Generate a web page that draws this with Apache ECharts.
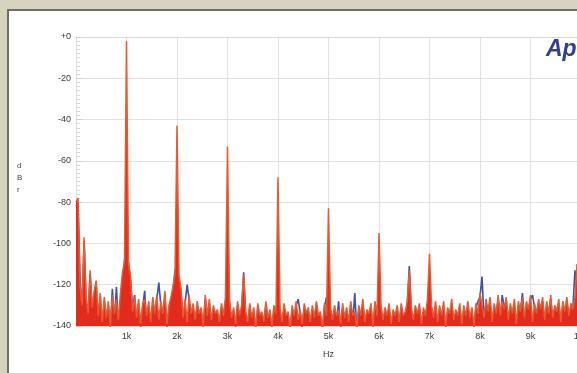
<!DOCTYPE html>
<html><head><meta charset="utf-8">
<script src="https://cdn.jsdelivr.net/npm/echarts@6/dist/echarts.min.js"></script>
<style>html,body{margin:0;padding:0;background:#d6d3be}#c{width:577px;height:373px}</style>
</head><body><div id="c"></div>
<script>
// FFT bin spacing (Hz) of the analyser trace
var binHz = 40;
var xTickLabels = ['1k','2k','3k','4k','5k','6k','7k','8k','9k','10k'];
var yTickLabels = ['+0','-20','-40','-60','-80','-100','-120','-140'];
// red channel (dBr), one value per bin from 0 Hz
var redDb = [
-80,-78,-121,-130,-97,-126,-134,-113,-131,-123,
-118,-135,-124,-138,-126,-136,-128,-140,-125,-134,
-127,-137,-124,-114,-109,-2,-110,-116,-133,-126,
-136,-127,-139,-129,-127,-135,-128,-138,-126,-134,
-125,-137,-128,-134,-123,-139,-130,-126,-121,-115,
-43,-116,-122,-136,-127,-138,-125,-134,-129,-137,
-128,-134,-131,-140,-125,-135,-127,-137,-130,-134,
-132,-138,-129,-135,-126,-53,-127,-136,-131,-139,
-128,-135,-130,-115,-133,-138,-129,-136,-131,-141,
-129,-135,-133,-138,-128,-136,-132,-140,-130,-134,
-68,-131,-138,-129,-135,-133,-141,-130,-135,-128,
-137,-132,-139,-129,-134,-131,-138,-130,-136,-128,
-135,-133,-141,-129,-135,-83,-131,-137,-130,-135,
-132,-139,-129,-136,-131,-138,-128,-135,-133,-141,
-130,-135,-127,-138,-132,-134,-129,-140,-128,-135,
-95,-130,-137,-131,-135,-129,-139,-132,-135,-130,
-138,-129,-135,-133,-128,-113,-131,-137,-130,-134,
-129,-139,-131,-135,-127,-105,-130,-136,-128,-138,
-130,-135,-128,-140,-131,-134,-127,-137,-132,-135,
-129,-139,-130,-135,-128,-136,-131,-140,-129,-134,
-124,-130,-136,-127,-133,-126,-138,-129,-134,-125,
-135,-128,-132,-126,-137,-129,-134,-127,-139,-128,
-133,-126,-136,-128,-132,-125,-138,-129,-134,-127,
-132,-126,-137,-128,-134,-125,-136,-130,-133,-127,
-138,-128,-133,-126,-135,-129,-132,-126,-110,-131,
-136
];
// blue channel (dBr); harmonics lie hidden beneath the red trace
var blueDb = [
-82,-80,-117,-132,-99,-128,-135,-115,-133,-125,
-120,-137,-126,-140,-128,-136,-130,-141,-122,-138,
-121,-139,-128,-124,-108,-107,-109,-118,-131,-125,
-137,-129,-141,-131,-123,-139,-130,-140,-128,-134,
-127,-119,-130,-139,-125,-141,-132,-128,-123,-113,
-112,-117,-124,-137,-129,-120,-127,-139,-131,-140,
-130,-138,-133,-141,-127,-136,-129,-140,-132,-139,
-134,-140,-131,-136,-128,-127,-129,-138,-133,-141,
-130,-139,-132,-114,-135,-140,-131,-137,-133,-142,
-131,-136,-135,-140,-130,-137,-134,-141,-132,-138,
-129,-133,-140,-131,-136,-135,-142,-132,-139,-130,
-127,-134,-141,-131,-138,-133,-140,-132,-137,-130,
-139,-135,-142,-131,-126,-128,-133,-139,-132,-139,
-128,-141,-131,-137,-133,-140,-130,-139,-124,-142,
-132,-136,-129,-139,-134,-138,-131,-141,-130,-136,
-130,-132,-138,-133,-139,-131,-140,-134,-136,-132,
-139,-131,-139,-135,-130,-111,-133,-138,-132,-138,
-131,-140,-133,-136,-129,-128,-132,-137,-130,-139,
-132,-139,-130,-141,-133,-138,-129,-138,-134,-136,
-131,-140,-132,-139,-130,-137,-133,-141,-131,-128,
-126,-116,-137,-129,-133,-128,-139,-131,-135,-127,
-136,-125,-131,-128,-138,-131,-134,-129,-140,-130,
-133,-124,-137,-130,-132,-127,-125,-131,-135,-129,
-131,-128,-138,-130,-134,-127,-137,-132,-132,-129,
-139,-130,-133,-128,-136,-131,-131,-113,-120,-133,
-137
];
function toPairs(arr){ return arr.map(function(v,i){ return [i*binHz, v]; }); }

var chart = echarts.init(document.getElementById('c'), null, {renderer:'canvas'});
var lblFont = {fontFamily:'Liberation Sans, Arial, sans-serif', fontSize:9, color:'#3a3a3a'};
chart.setOption({
  backgroundColor:'#d6d3be',
  animation:false,
  graphic:[
    {type:'rect', z:-10, shape:{x:8,y:10,width:620,height:400}, style:{fill:'#ffffff', stroke:'#6f6e63', lineWidth:2}},
    {type:'text', z:10, left:17, top:160, style:{text:'d\nB\nr', fontSize:8, lineHeight:12, fill:'#444', fontFamily:'Liberation Sans, Arial, sans-serif', align:'center'}},
    {type:'text', z:10, left:546, top:38, style:{text:'Ap', fontSize:23, fontWeight:'bold', fontStyle:'italic', fill:'#2f3f8f', fontFamily:'Liberation Sans, Arial, sans-serif'}}
  ],
  grid:{left:76, right:-4, top:37, bottom:47, containLabel:false, outerBoundsMode:'none'},
  xAxis:{
    type:'value', min:0, max:10000, interval:1000,
    name:'Hz', nameLocation:'middle', nameGap:24,
    nameTextStyle:{fontFamily:'Liberation Sans, Arial, sans-serif', fontSize:9, color:'#3a3a3a'},
    axisLine:{show:true, lineStyle:{color:'#d8d8d8'}},
    axisTick:{show:false},
    axisLabel:Object.assign({margin:6, showMinLabel:false, formatter:function(v){ var k=Math.round(v/1000); return k>=1? xTickLabels[k-1] : ''; }}, lblFont),
    splitLine:{show:true, lineStyle:{color:'#e2e2e2', width:1}}
  },
  yAxis:{
    type:'value', min:-140, max:0, interval:20,
    axisLine:{show:true, lineStyle:{color:'#dcdcdc'}},
    axisTick:{show:true, inside:true, length:6, lineStyle:{color:'#d0d0d0'}},
    minorTick:{show:true, splitNumber:10, length:4, lineStyle:{color:'#dadada'}},
    axisLabel:Object.assign({margin:5, formatter:function(v){ return yTickLabels[Math.round(-v/20)]; }}, lblFont),
    splitLine:{show:true, lineStyle:{color:'#e2e2e2', width:1}}
  },
  series:[
    {type:'line', name:'Ch B', data:toPairs(blueDb), showSymbol:false, symbol:'none', clip:true,
     lineStyle:{color:'#4150a6', width:1.6}, z:2},
    {type:'line', name:'Ch A', data:toPairs(redDb), showSymbol:false, symbol:'none', clip:true,
     lineStyle:{color:'#e85a30', width:1.5},
     areaStyle:{color:'#e22b1d', opacity:1, origin:'start'}, z:3}
  ]
});
</script></body></html>
